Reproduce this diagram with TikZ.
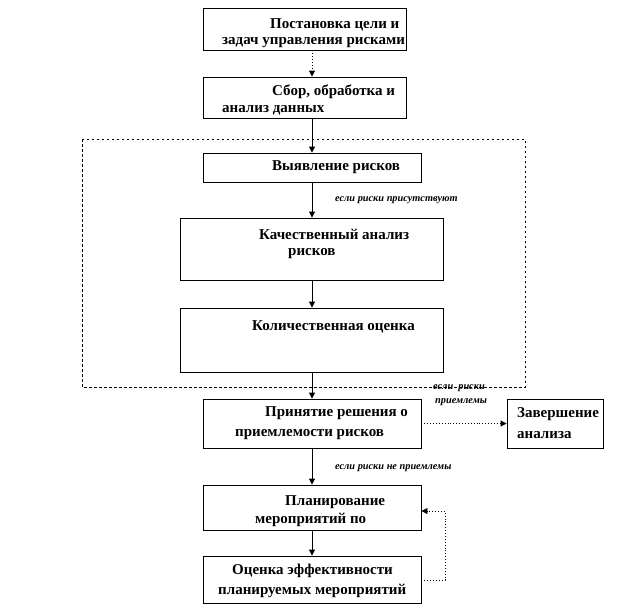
\documentclass[tikz,border=0pt]{standalone}
\usepackage{fontspec}
\setmainfont{Liberation Serif}
\usetikzlibrary{arrows.meta}
\tikzset{
  box/.style={draw, line width=0.9pt, inner sep=0pt},
  txt/.style={anchor=west, inner sep=0pt, font=\bfseries\fontsize{15}{17}\selectfont},
  lbl/.style={anchor=west, inner sep=0pt, font=\bfseries\itshape\fontsize{10.3}{12}\selectfont},
  arr/.style={line width=0.9pt, -{Triangle[length=6pt,width=6pt]}},
  darr/.style={line width=0.9pt, dotted, -{Triangle[length=6pt,width=6pt]}},
  frame/.style={line width=0.8pt, dash pattern=on 2.5pt off 2.5pt}
}
\begin{document}
\begin{tikzpicture}[x=1pt,y=-1pt]
\useasboundingbox (0,0) rectangle (624,611);
% frame
\draw[frame] (82,139) rectangle (525,387);
% boxes
\node[box, minimum width=203pt, minimum height=42pt] (b1) at (304.5,29) {};
\node[box, minimum width=203pt, minimum height=41pt] (b2) at (304.5,97.5) {};
\node[box, minimum width=218pt, minimum height=29pt] (b3) at (312,167.5) {};
\node[box, minimum width=263pt, minimum height=62pt] (b4) at (311.5,249) {};
\node[box, minimum width=263pt, minimum height=64pt] (b5) at (311.5,340) {};
\node[box, minimum width=218pt, minimum height=49pt] (b6) at (312,423.5) {};
\node[box, minimum width=96pt, minimum height=49pt] (b7) at (555,423.5) {};
\node[box, minimum width=218pt, minimum height=45pt] (b8) at (312,507.5) {};
\node[box, minimum width=218pt, minimum height=47pt] (b9) at (312,579.5) {};
% texts
\node[txt] (t1a) at (270,25) {Постановка цели и};
\node[txt] (t1b) at (222,43) {задач управления рисками};
\node[txt] (t2a) at (272,92) {Сбор, обработка и};
\node[txt] (t2b) at (222,110) {анализ данных};
\node[txt] (t3) at (272,167) {Выявление рисков};
\node[txt] (t4a) at (259,234) {Качественный анализ};
\node[txt] (t4b) at (288,254) {рисков};
\node[txt] (t5) at (252,327) {Количественная оценка};
\node[txt] (t6a) at (265,413) {Принятие решения о};
\node[txt] (t6b) at (235,435) {приемлемости рисков};
\node[txt] (t7a) at (517,414) {Завершение};
\node[txt] (t7b) at (517,435) {анализа};
\node[txt] (t8a) at (285,502) {Планирование};
\node[txt] (t8b) at (255,520) {мероприятий по};
\node[txt] (t9a) at (232,571) {Оценка эффективности};
\node[txt] (t9b) at (218,591) {планируемых мероприятий};
% labels
\node[lbl] (l1) at (335,200) {если риски присутствуют};
\node[lbl] (l2a) at (433,388) {если\ \ риски};
\node[lbl] (l2b) at (435,402) {приемлемы};
\node[lbl] (l3) at (335,468) {если риски не приемлемы};
% connectors
\draw[darr] (b1.south -| b3.center) -- (b2.north -| b3.center);
\draw[arr] (b2.south -| b3.center) -- (b3.north);
\draw[arr] (b3.south) -- (b4.north -| b3.center);
\draw[arr] (b4.south -| b3.center) -- (b5.north -| b3.center);
\draw[arr] (b5.south -| b3.center) -- (b6.north);
\draw[darr] (b6.east) -- (b7.west);
\draw[arr] (b6.south) -- (b8.north);
\draw[arr] (b8.south) -- (b9.north);
\coordinate (c1) at (445,580);
\coordinate (c2) at (445,511);
\draw[darr] (b9.east |- c1) -- (c1) -- (c2) -- (b8.east |- c2);
\end{tikzpicture}
\end{document}
